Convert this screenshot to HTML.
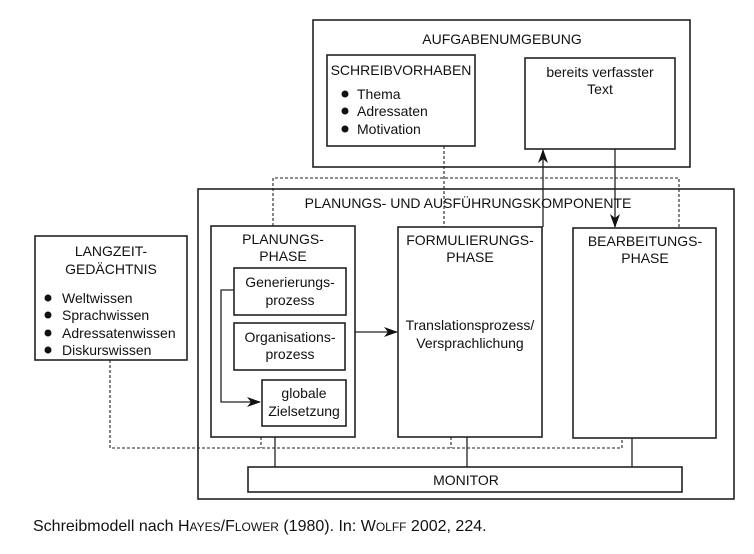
<!DOCTYPE html>
<html><head><meta charset="utf-8"><style>
html,body{margin:0;padding:0;background:#fff;width:754px;height:554px;overflow:hidden}
svg text{font-family:"Liberation Sans",sans-serif;fill:#111}
</style></head><body>
<svg width="754" height="554" viewBox="0 0 754 554" xmlns="http://www.w3.org/2000/svg">
<defs><marker id="a" markerWidth="14" markerHeight="10" refX="13" refY="5" orient="auto" markerUnits="userSpaceOnUse"><path d="M0,0 L14,5 L0,10 L4,5 Z" fill="#111"/></marker></defs>
<g fill="none" stroke="#222" stroke-width="1.6">
<rect x="313" y="20" width="377" height="147"/>
<rect x="327" y="55" width="148" height="91"/>
<rect x="525" y="58" width="150" height="91"/>
<rect x="198" y="189" width="536" height="310"/>
<rect x="35" y="236" width="152" height="124"/>
<rect x="211" y="226" width="144" height="211"/>
<rect x="234" y="268" width="112" height="47"/>
<rect x="234" y="323" width="111" height="47"/>
<rect x="262" y="380" width="84" height="46"/>
<rect x="398" y="227" width="144" height="210"/>
<rect x="573" y="228" width="143" height="210"/>
<rect x="248" y="467" width="434" height="25"/>
</g>
<g fill="none" stroke="#222" stroke-width="1.3">
<path d="M275,437V467M467,437V467M632,438V467"/>
<path d="M234,290H221V402H260" marker-end="url(#a)"/>
<path d="M355,332H397" marker-end="url(#a)"/>
<path d="M543,227V150" marker-end="url(#a)"/>
<path d="M615,149V227" marker-end="url(#a)"/>
</g>
<g fill="none" stroke="#222" stroke-width="1.1" stroke-dasharray="3,2">
<path d="M444,146V227"/>
<path d="M273,226V178H679V228"/>
<path d="M110,360V448H622V438"/>
<path d="M261,437V448M451,437V448"/>
</g>
<g font-size="14" text-anchor="middle">
<text x="502" y="44">AUFGABENUMGEBUNG</text>
<text x="401" y="75">SCHREIBVORHABEN</text>
<text x="600" y="77">bereits verfasster</text>
<text x="600" y="94">Text</text>
<text x="468" y="208">PLANUNGS- UND AUSFÜHRUNGSKOMPONENTE</text>
<text x="111" y="256">LANGZEIT-</text>
<text x="111" y="274">GEDÄCHTNIS</text>
<text x="283" y="244">PLANUNGS-</text>
<text x="283" y="261">PHASE</text>
<text x="290" y="287">Generierungs-</text>
<text x="290" y="305">prozess</text>
<text x="290" y="342">Organisations-</text>
<text x="290" y="359">prozess</text>
<text x="304" y="398">globale</text>
<text x="304" y="416">Zielsetzung</text>
<text x="470" y="245">FORMULIERUNGS-</text>
<text x="470" y="262">PHASE</text>
<text x="470" y="330">Translationsprozess/</text>
<text x="470" y="348">Versprachlichung</text>
<text x="645" y="246">BEARBEITUNGS-</text>
<text x="645" y="263">PHASE</text>
<text x="466" y="485">MONITOR</text>
</g>
<g font-size="14">
<text x="357" y="99">Thema</text>
<text x="357" y="116">Adressaten</text>
<text x="357" y="134">Motivation</text>
<text x="62" y="303">Weltwissen</text>
<text x="62" y="320">Sprachwissen</text>
<text x="62" y="338">Adressatenwissen</text>
<text x="62" y="355">Diskurswissen</text>
</g>
<g fill="#111">
<circle cx="345" cy="94" r="3.5"/><circle cx="345" cy="111" r="3.5"/><circle cx="345" cy="129" r="3.5"/>
<circle cx="48" cy="298" r="3.5"/><circle cx="48" cy="315" r="3.5"/><circle cx="48" cy="333" r="3.5"/><circle cx="48" cy="350" r="3.5"/>
</g>
<text x="33" y="531" font-size="16">Schreibmodell nach H<tspan font-size="12">AYES</tspan>/F<tspan font-size="12">LOWER</tspan> (1980). In: W<tspan font-size="12">OLFF</tspan> 2002, 224.</text>
</svg>
</body></html>
